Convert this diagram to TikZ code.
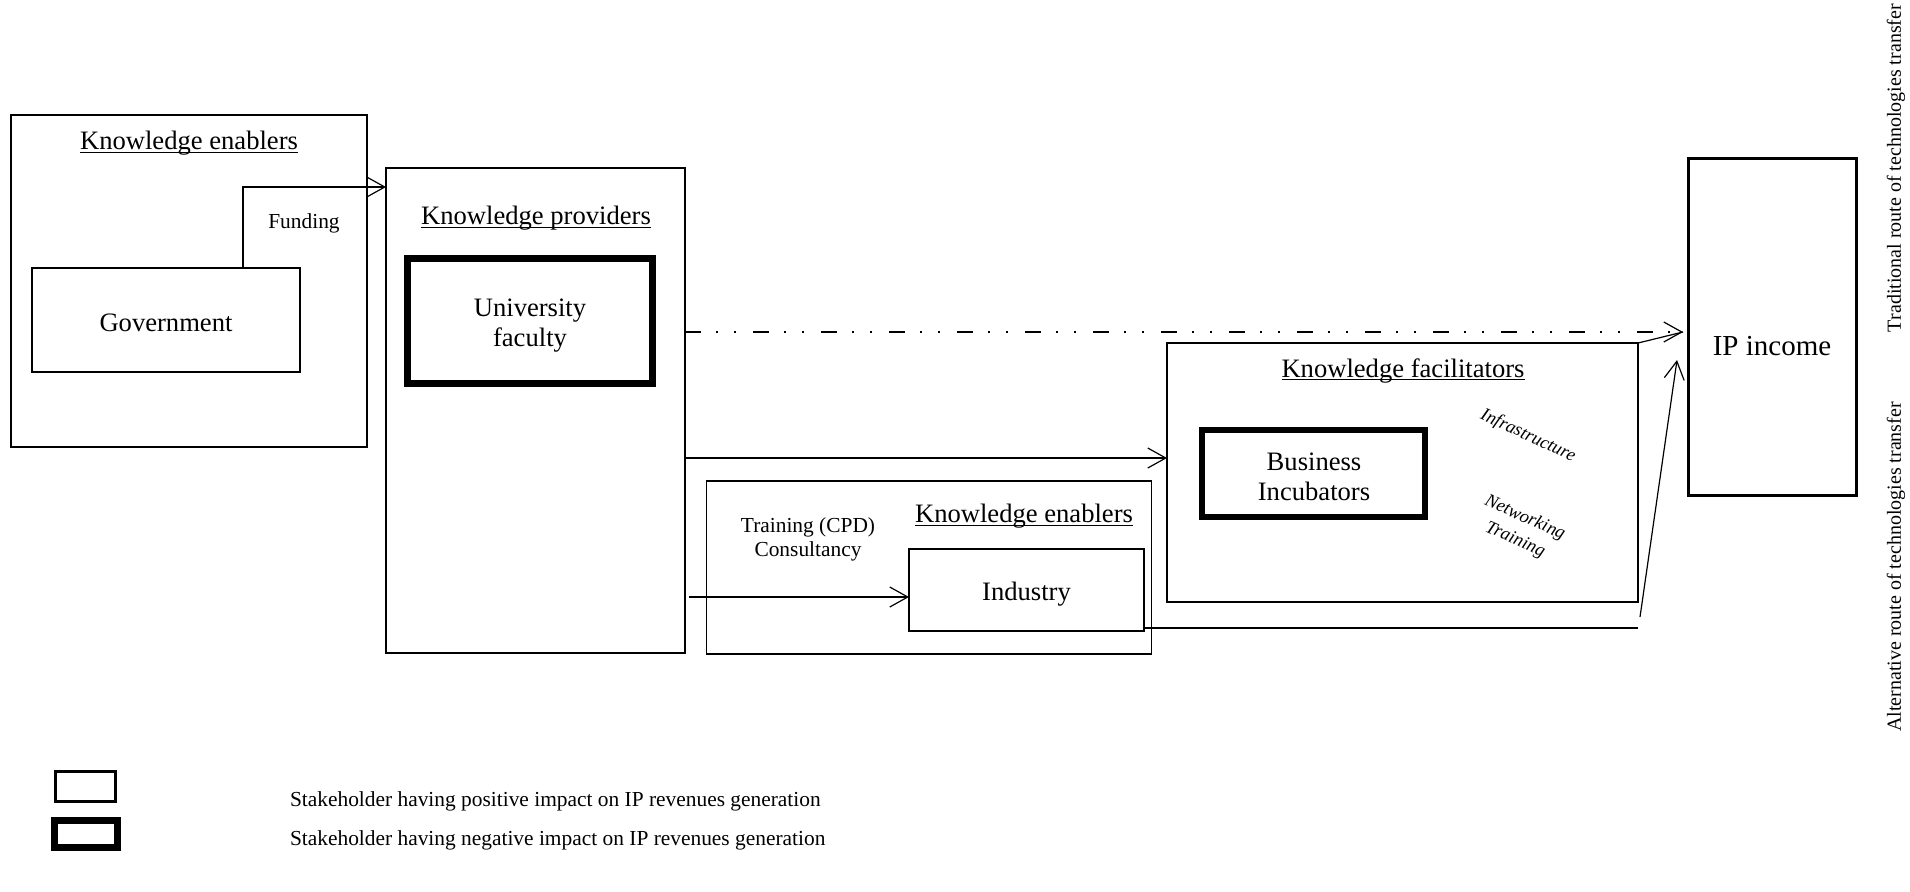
\documentclass[tikz,border=0pt]{standalone}
\usepackage{fontspec}
\setmainfont{Liberation Serif}
\usetikzlibrary{arrows.meta}

% underline at a fixed depth below the baseline
\newcommand\ultitle[1]{\setbox0\hbox{#1}\rlap{\rule[-1.6pt]{\wd0}{0.65pt}}\box0}

\begin{document}
\begin{tikzpicture}[x=0.5pt,y=-0.5pt,
  every node/.style={inner sep=0pt, outer sep=0pt},
  frame/.style={draw, line width=0.55pt, rectangle},
  posbox/.style={draw, line width=1.35pt, rectangle},
  negbox/.style={draw, line width=3.4pt, rectangle},
  title/.style={font=\fontsize{13.3}{15}\selectfont},
  big/.style={font=\fontsize{13.3}{15}\selectfont, align=center},
  small/.style={font=\fontsize{10.7}{12}\selectfont, align=center},
  slanted/.style={font=\fontsize{9.2}{12}\selectfont\itshape},
  vert/.style={rotate=90, font=\fontsize{10}{12}\selectfont},
  conn/.style={line width=0.6pt},
  arr/.style={conn, -{Straight Barb[length=9pt,width=10pt,line width=0.6pt]}},
  routeline/.style={line width=1pt, dash pattern=on 8pt off 7.5pt on 1pt off 8pt on 1pt off 8.5pt,
    -{Straight Barb[length=9pt,width=10pt,line width=0.6pt]}},
]
\fill[white] (0,0) rectangle (1910,891);
\useasboundingbox (0,0) rectangle (1910,891);

% knowledge enablers: government
\node[frame, minimum width=178pt, minimum height=166pt] (encA) at (189,281) {};
\node[title] (encAt) at (189,143.5) {\ultitle{Knowledge enablers}};
\node[posbox, minimum width=134pt, minimum height=52pt] (gov) at (166,320) {};
\node[big] (govt) at (166,323) {Government};

% knowledge providers: university
\node[frame, minimum width=149.5pt, minimum height=242.5pt] (prov) at (535.5,410.5) {};
\node[title] (provt) at (536,218.5) {\ultitle{Knowledge providers}};
\node[negbox, minimum width=122.5pt, minimum height=62.5pt] (univ) at (530,321) {};
\node[big] (univt) at (530,326) {University\\faculty};

% knowledge enablers: industry
\node[frame, minimum width=222.5pt, minimum height=86.5pt] (encB) at (929,567.5) {};
\node[title] (encBt) at (1024,516.5) {\ultitle{Knowledge enablers}};
\node[small] (cpd) at (808,539.5) {Training (CPD)\\Consultancy};
\node[posbox, minimum width=117.5pt, minimum height=41pt] (ind) at (1026.5,590) {};
\node[big] (indt) at (1026.5,594) {Industry};

% knowledge facilitators: incubators
\node[frame, minimum width=235.5pt, minimum height=129.5pt] (fac) at (1402.5,472.5) {};
\node[title] (fact) at (1403,370.5) {\ultitle{Knowledge facilitators}};
\node[negbox, minimum width=111.5pt, minimum height=43.5pt] (inc) at (1313.5,473.5) {};
\node[font=\fontsize{13.3}{15}\selectfont, align=center] (inct) at (1314,476.5) {Business\\Incubators};
\node[slanted, rotate=-25] (infra) at (1528,436) {Infrastructure};
\node[slanted, rotate=-24, align=center] (netw) at (1520,529) {Networking\\Training};

% outcome
\node[posbox, line width=1.5pt, minimum width=84pt, minimum height=168.5pt] (ip) at (1772.5,327) {};
\node[font=\fontsize{14.5}{16}\selectfont] (ipt) at (1772,346) {IP income};

% route captions
\node[vert] (trad) at (1896,168) {Traditional route of technologies transfer};
\node[vert] (alt) at (1896,567) {Alternative route of technologies transfer};

% legend
\node[draw, line width=1.3pt, minimum width=30.2pt, minimum height=15.2pt] (lg1) at (85.5,786.5) {};
\node[negbox, minimum width=31.5pt, minimum height=13.5pt] (lg2) at (86,834) {};
\node[small, anchor=west] (lg1t) at (290,801.5) {Stakeholder having positive impact on IP revenues generation};
\node[small, anchor=west] (lg2t) at (290,840.5) {Stakeholder having negative impact on IP revenues generation};

% connectors
\coordinate (fy) at (243,187);
\draw[arr] (gov.north -| fy) |- (prov.west |- fy);
\node[small] (fund) at (304,223.5) {Funding};

\coordinate (ry) at (0,458);
\draw[arr] (prov.east |- ry) -- (fac.west |- ry);

\coordinate (ix) at (689,597);
\draw[arr] (ix) -- (ind.west |- ix);

\coordinate (ty) at (0,332);
\coordinate (tip1) at (1683,332);
\draw[routeline] (prov.east |- ty) -- (tip1);
\draw[conn] (fac.north east) -- (tip1);

\coordinate (b1) at (1638,628);
\draw[conn] (ind.east |- b1) -- (b1);
\coordinate (a0) at (1640,617);
\coordinate (tip2) at (1677,360);
\draw[arr] (a0) -- (tip2);
\end{tikzpicture}
\end{document}
